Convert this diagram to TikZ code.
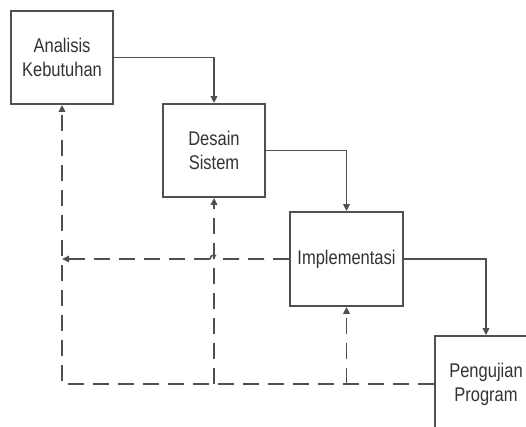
\documentclass[tikz,border=0pt]{standalone}
\usepackage{graphicx}
\usepackage{fontspec}
\setmainfont{Liberation Sans}
\usetikzlibrary{arrows.meta,calc}
\definecolor{linec}{HTML}{505050}
\definecolor{textc}{HTML}{333333}
\newcommand{\talltext}[1]{\scalebox{1}[1.2]{#1}}
\begin{document}
\begin{tikzpicture}[x=1pt,y=-1pt,
  box/.style={draw=linec,line width=1.8pt,rectangle,inner sep=0pt,align=center,
    text=textc,font=\fontsize{16.5}{24}\selectfont},
  flow/.style={draw=linec,line width=1.6pt,-{Triangle[length=7pt,width=6.5pt]}},
  back/.style={draw=linec,line width=1.6pt,dash pattern=on 16pt off 9pt,-{Triangle[length=7pt,width=6.5pt]}},
  backplain/.style={draw=linec,line width=1.6pt,dash pattern=on 16pt off 9pt}]
\useasboundingbox (0,0) rectangle (526,427);
\clip (0,0) rectangle (526,427);
\fill[white] (0,0) rectangle (526,427);
\node[box,minimum width=102pt,minimum height=93pt] (a) at (62,57.5) {\talltext{Analisis}\\\talltext{Kebutuhan}};
\node[box,minimum width=102pt,minimum height=93pt] (b) at (214,150.5) {\talltext{Desain}\\\talltext{Sistem}};
\node[box,minimum width=113pt,minimum height=94pt] (c) at (346.5,259) {\talltext{Implementasi}};
\node[box,minimum width=102pt,minimum height=96pt] (d) at (486,384) {\talltext{Pengujian}\\\talltext{Program}};
% forward flow
\draw[flow] (a.east) -| (b.north);
\draw[flow] (b.east) -| (c.north);
\draw[flow] (c.east) -| (d.north);
% feedback
\coordinate (j2) at (b.south |- d.west);
\coordinate (j3) at (c.south |- d.west);
\coordinate (hop) at (b.south |- c.west);
\coordinate (l3) at (a.south |- c.west);
\draw[back] (d.west) -| (a.south);
\draw[back] (j2) -- (b.south);
\draw[back] (j3) -- (c.south);
\draw[backplain] (c.west) -- ($(hop)+(4,0)$) arc[start angle=0,end angle=180,radius=4pt];
\draw[back] ($(hop)+(-4,0)$) -- (l3);
\end{tikzpicture}
\end{document}
